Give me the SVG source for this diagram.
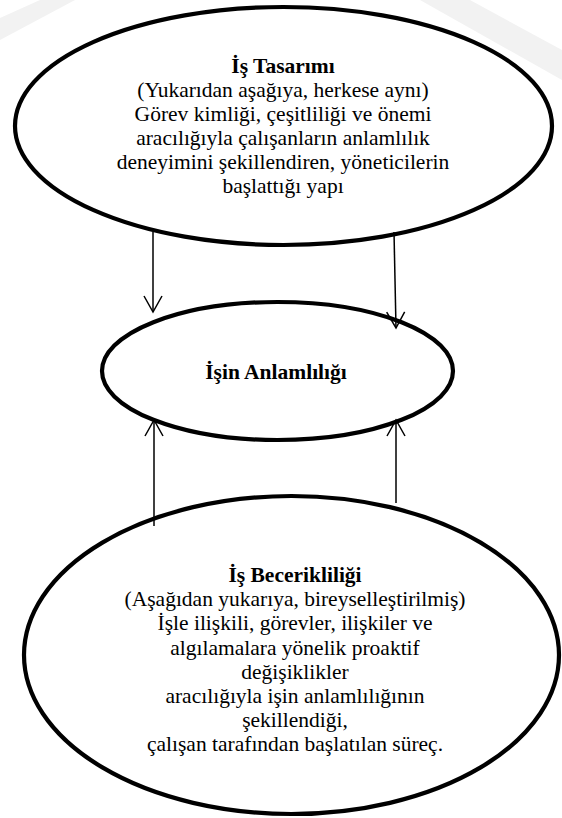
<svg xmlns="http://www.w3.org/2000/svg" width="562" height="818" viewBox="0 0 562 818">
  <style>
    .node { fill: #ffffff; stroke: #000000; stroke-width: 4.2; }
    .t { font-family: 'Liberation Serif', 'DejaVu Serif', serif; font-size: 21.5px; fill: #000000; text-anchor: middle; }
    .b { font-weight: bold; }
    .edge { stroke: #000000; stroke-width: 1.5; fill: none; }
    .wm { fill: #f2f2f2; }
  </style>
  <defs>
    <marker id="arrow" viewBox="0 0 20 20" refX="18" refY="10" markerWidth="20" markerHeight="20" markerUnits="userSpaceOnUse" orient="auto">
      <path d="M2,1 L18,10 L2,19" fill="none" stroke="#000000" stroke-width="1.5"/>
    </marker>
  </defs>
  <rect width="562" height="818" fill="#ffffff"/>
  <g id="watermark">
    <polygon class="wm" points="0,18 40,0 75,0 0,40"/>
    <polygon class="wm" points="420,0 470,0 562,50 562,80"/>
  </g>
  <g id="node-is-tasarimi">
    <ellipse class="node" cx="283.5" cy="126" rx="268.5" ry="119"/>
    <text class="t b" x="283" y="73">İş Tasarımı</text>
    <text class="t" x="283" y="97">(Yukarıdan aşağıya, herkese aynı)</text>
    <text class="t" x="283" y="121">Görev kimliği, çeşitliliği ve önemi</text>
    <text class="t" x="283" y="145">aracılığıyla çalışanların anlamlılık</text>
    <text class="t" x="283" y="169">deneyimini şekillendiren, yöneticilerin</text>
    <text class="t" x="283" y="193">başlattığı yapı</text>
  </g>
  <g id="node-isin-anlamliligi">
    <ellipse class="node" cx="277.5" cy="371" rx="175.5" ry="69"/>
    <text class="t b" x="276" y="379">İşin Anlamlılığı</text>
  </g>
  <g id="node-is-becerikliligi">
    <ellipse class="node" cx="291.5" cy="655" rx="267.5" ry="159"/>
    <text class="t b" x="295" y="582">İş Becerikliliği</text>
    <text class="t" x="295" y="606">(Aşağıdan yukarıya, bireyselleştirilmiş)</text>
    <text class="t" x="295" y="630">İşle ilişkili, görevler, ilişkiler ve</text>
    <text class="t" x="295" y="655">algılamalara yönelik proaktif</text>
    <text class="t" x="295" y="679">değişiklikler</text>
    <text class="t" x="295" y="703">aracılığıyla işin anlamlılığının</text>
    <text class="t" x="295" y="727">şekillendiği,</text>
    <text class="t" x="295" y="751">çalışan tarafından başlatılan süreç.</text>
  </g>
  <g id="connectors">
    <line class="edge" x1="153" y1="232" x2="153" y2="312" marker-end="url(#arrow)"/>
    <line class="edge" x1="394" y1="232" x2="396" y2="328" marker-end="url(#arrow)"/>
    <line class="edge" x1="154" y1="526" x2="154" y2="420" marker-end="url(#arrow)"/>
    <line class="edge" x1="396" y1="503" x2="396" y2="420" marker-end="url(#arrow)"/>
  </g>
</svg>
